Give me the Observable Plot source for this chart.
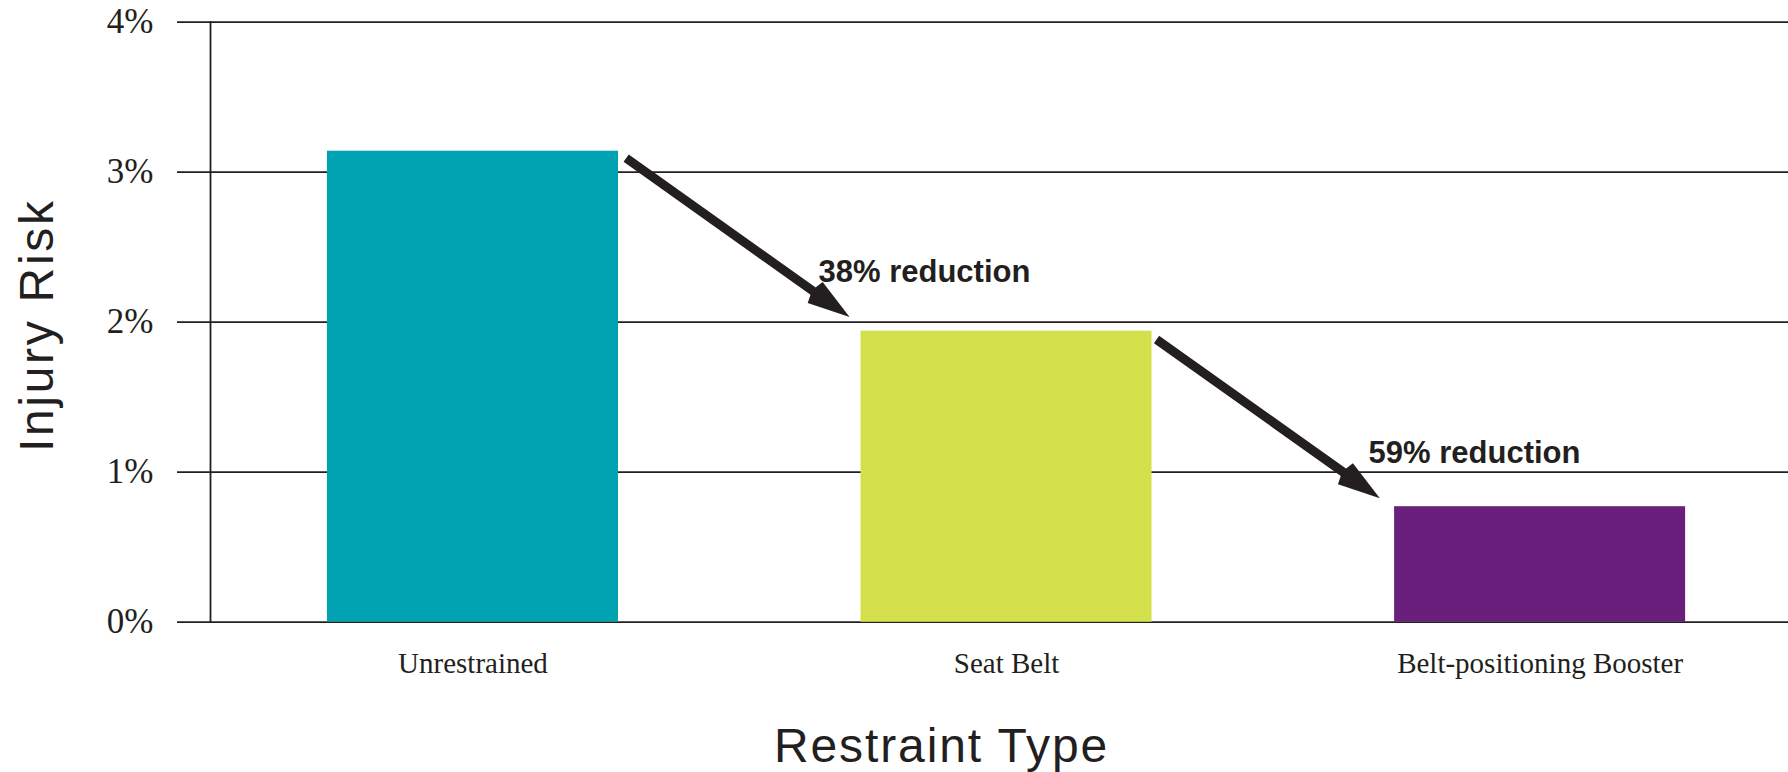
<!DOCTYPE html>
<html>
<head>
<meta charset="utf-8">
<script src="https://cdn.jsdelivr.net/npm/d3@7"></script>
<script src="https://cdn.jsdelivr.net/npm/@observablehq/plot@0.6"></script>
<style>
  html, body { margin: 0; padding: 0; background: #ffffff; }
  #chart svg { display: block; }
</style>
</head>
<body>
<div id="chart"></div>
<script>
// ---- Data ----
const categories = ["Unrestrained", "Seat Belt", "Belt-positioning Booster"];
const injuryRisk = [3.14, 1.94, 0.77];           // percent
const barColors = ["#00a1b1", "#d4e04b", "#6a1f7d"];
const yTicks = [0, 1, 2, 3, 4];
const xTitle = "Restraint Type";
const yTitle = "Injury Risk";

// Annotation arrows (from bar to bar) and their labels
const arrowFrom = ["Unrestrained", "Seat Belt"];
const arrowTo = ["Seat Belt", "Belt-positioning Booster"];
const arrowStartY = [3.82, 2.595];               // percent, on the line through the band centres
const arrowEndY = [1.29, 0.068];
const reductionLabels = ["38% reduction", "59% reduction"];
const labelAt = ["Seat Belt", "Belt-positioning Booster"];
const labelY = [2.27, 1.06];

// ---- Tables built from the arrays ----
const bars = categories.map((c, i) => ({category: c, risk: injuryRisk[i]}));
const arrows = arrowFrom.map((f, i) => ({from: f, to: arrowTo[i], y1: arrowStartY[i], y2: arrowEndY[i]}));
const notes = reductionLabels.map((t, i) => ({label: t, at: labelAt[i], y: labelY[i]}));

const ink = "#231f20";
const arrowStyle = {
  x1: "from", y1: "y1", x2: "to", y2: "y2",
  stroke: ink, strokeWidth: 9, headLength: 4.9, headAngle: 34,
  strokeLinecap: "butt", strokeLinejoin: "miter", strokeMiterlimit: 8
};
const noteStyle = {
  x: "at", y: "y", text: "label", textAnchor: "start", lineAnchor: "bottom",
  fontFamily: "Liberation Sans, Arial, sans-serif", fontWeight: "bold", fontSize: 31, fill: ink
};

const chart = Plot.plot({
  width: 1788,
  height: 772,
  marginLeft: 210,
  marginRight: 0,
  marginTop: 21.7,
  marginBottom: 150.3,
  style: {background: "#ffffff", color: ink, fontFamily: "Liberation Serif, 'Times New Roman', serif"},
  x: {domain: categories, paddingInner: 0.4546, paddingOuter: 0.206, align: 0.532, round: false, axis: null},
  y: {domain: [0, 4], axis: null},
  color: {domain: categories, range: barColors},
  marks: [
    Plot.gridY(yTicks, {stroke: ink, strokeOpacity: 1, strokeWidth: 1.8}),
    Plot.barY(bars, {x: "category", y: "risk", fill: "category"}),
    Plot.frame({anchor: "left", stroke: ink, strokeWidth: 1.8}),
    Plot.axisY(yTicks, {
      tickFormat: d => d + "%", tickSize: 33, tickPadding: 24, strokeWidth: 1.8,
      fontSize: 35, fontFamily: "Liberation Serif, 'Times New Roman', serif", fill: ink, label: null
    }),
    Plot.axisX({
      tickSize: 0, tickPadding: 30, fontSize: 29,
      fontFamily: "Liberation Serif, 'Times New Roman', serif", fill: ink, label: null
    }),
    Plot.arrow([arrows[0]], {...arrowStyle, insetStart: 188, insetEnd: 208}),
    Plot.arrow([arrows[1]], {...arrowStyle, insetStart: 184, insetEnd: 212}),
    Plot.text([notes[0]], {...noteStyle, dx: -188}),
    Plot.text([notes[1]], {...noteStyle, dx: -171.5}),
    Plot.text([xTitle], {
      frameAnchor: "bottom", textAnchor: "middle", lineAnchor: "bottom", dx: -58, dy: 140,
      fontFamily: "Liberation Sans, Arial, sans-serif", fontSize: 48, fill: ink
    }),
    Plot.text([yTitle], {
      frameAnchor: "left", textAnchor: "middle", rotate: -90, lineAnchor: "middle", dx: -172.4, dy: 3,
      fontFamily: "Liberation Sans, Arial, sans-serif", fontSize: 48, fill: ink
    })
  ]
});

// letter spacing for the two axis titles
d3.select(chart).selectAll("text")
  .filter(function () { return this.textContent === xTitle; })
  .style("letter-spacing", "1.9px");
d3.select(chart).selectAll("text")
  .filter(function () { return this.textContent === yTitle; })
  .style("letter-spacing", "2.7px");

document.getElementById("chart").appendChild(chart);
</script>
</body>
</html>
